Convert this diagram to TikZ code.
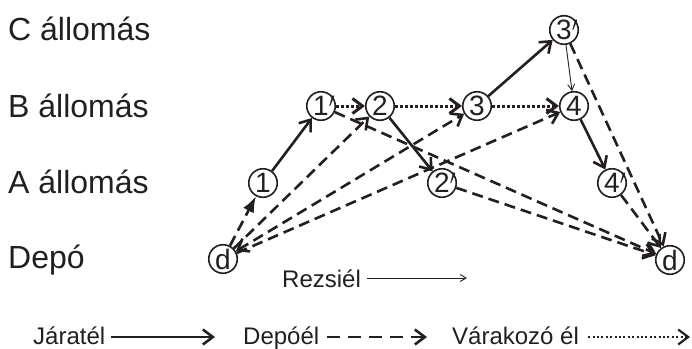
\documentclass[tikz,border=0pt]{standalone}
\usepackage{fontspec}
\setmainfont{Liberation Sans}
\usetikzlibrary{arrows.meta,positioning}
\definecolor{ink}{RGB}{35,31,32}
\newcommand{\primed}[1]{#1\rlap{\raisebox{-1pt}{$'$}}}

\begin{document}
\begin{tikzpicture}[x=1pt,y=-1pt,every node/.style={text=ink},
    stop/.style={circle,draw=ink,line width=1.6pt,minimum size=28.5pt,inner sep=0pt,
      font=\fontsize{28}{28}\selectfont},
    row/.style={anchor=base west,inner sep=0pt,font=\fontsize{32}{32}\selectfont},
    key/.style={anchor=base west,inner sep=0pt,font=\fontsize{24}{24}\selectfont},
    barb/.tip={Straight Barb[length=10pt,width=15pt]},
    run/.style={draw=ink,line width=2.6pt,-barb},
    wait/.style={draw=ink,line width=3pt,dash pattern=on 2.8pt off 2.2pt,-barb},
    depot/.style={draw=ink,line width=2.6pt,dash pattern=on 11pt off 6pt,-barb},
    link/.style={draw=ink,line width=0.9pt,-{Straight Barb[length=6pt,width=7pt]}}]
  \useasboundingbox (0,0) rectangle (692,348);
  \node[row] (lc) at (8,40) {C állomás};
  \node[row] (lb) at (8,117) {B állomás};
  \node[row] (la) at (8,193) {A állomás};
  \node[row] (ld) at (8,268) {Depó};

  \node[stop] (d0) at (223,259) {d};
  \node[stop] (a1) at (263,183) {1};
  \node[stop] (b1) at (321,106) {\primed{1}};
  \node[stop] (b2) at (380,106) {2};
  \node[stop] (a2) at (442,183) {\primed{2}};
  \node[stop] (b3) at (477,106) {3};
  \node[stop] (c3) at (564,30) {\primed{3}};
  \node[stop] (b4) at (574,106) {4};
  \node[stop] (a4) at (612,183) {\primed{4}};
  \node[stop] (d1) at (670,260) {d};

  \draw[run] (a1) -- (b1);
  \draw[run] (b2) -- (a2);
  \draw[run] (b3) -- (c3);
  \draw[run] (b4) -- (a4);
  \draw[link] (c3) -- (b4);
  \draw[wait] (b1) -- (b2);
  \draw[wait] (b2) -- (b3);
  \draw[wait] (b3) -- (b4);
  \draw[depot,-{Latex[length=16pt,width=12pt]}] (d0) -- (a1);
  \draw[depot] (d0) -- (b2);
  \draw[depot,barb-barb] (d0) -- (b3);
  \draw[depot] (d0) -- (b4);
  \draw[depot] (b1) -- (d1);
  \draw[depot] (a2) -- (d1);
  \draw[depot] (c3) -- (d1);
  \draw[depot] (a4) -- (d1);

  \node[key] (rz) at (282,287) {Rezsiél};
  \coordinate (rzend) at (467,278);
  \draw[link,shorten <=6pt] (rz.east |- rzend) -- (rzend);

  \node[key] (kr) at (33,344) {Járatél};
  \coordinate (krend) at (215,337);
  \draw[run,line width=2.6pt] ([xshift=6pt]kr.east |- krend) -- (krend);
  \node[key] (kd) at (243,344) {Depóél};
  \coordinate (kdend) at (427,337);
  \draw[depot,dash pattern=on 13pt off 8pt] ([xshift=8pt]kd.east |- kdend) -- (kdend);
  \node[key] (kw) at (452,344) {Várakozó él};
  \coordinate (kwend) at (690,337);
  \draw[wait,line width=2.2pt,dash pattern=on 2pt off 2.4pt] ([xshift=9pt]kw.east |- kwend) -- (kwend);
\end{tikzpicture}
\end{document}
